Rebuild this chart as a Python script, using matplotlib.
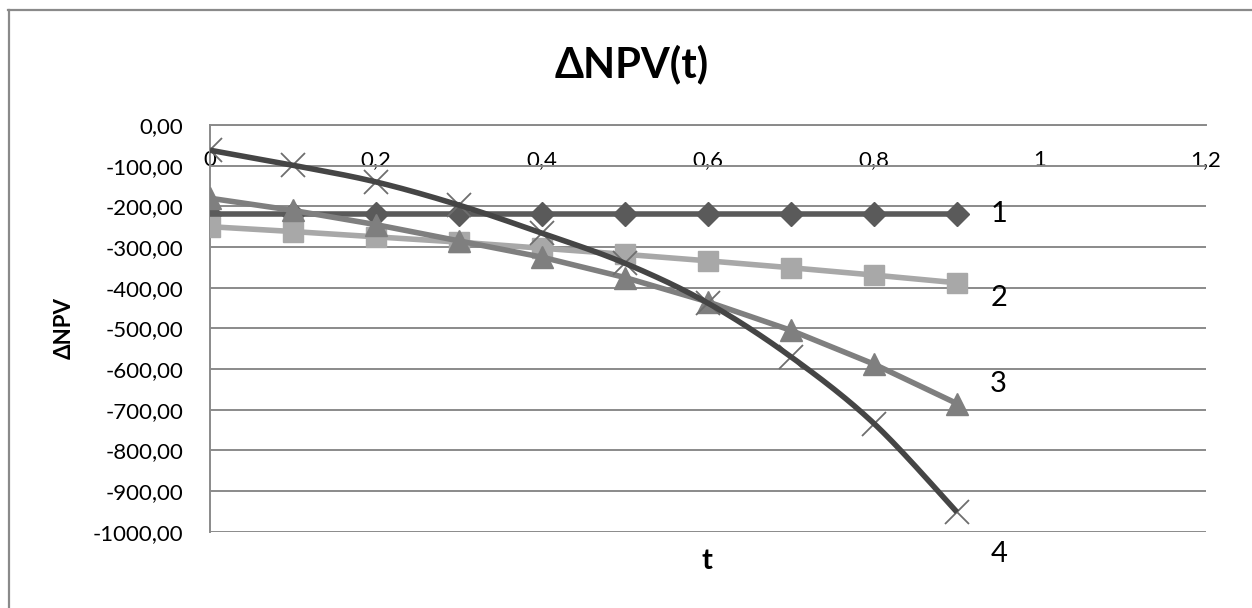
import numpy as np
import matplotlib
matplotlib.use("Agg")
import matplotlib.pyplot as plt
from matplotlib.lines import Line2D
from matplotlib.ticker import FuncFormatter, MultipleLocator

# ---- data ----
t = [0.0, 0.1, 0.2, 0.3, 0.4, 0.5, 0.6, 0.7, 0.8, 0.9]
npv1 = [-220, -220, -220, -220, -220, -220, -220, -220, -220, -220]
npv2 = [-250, -262, -275, -288, -303, -318, -334, -351, -369, -388]
npv3 = [-180, -210, -245, -285, -325, -375, -435, -505, -588, -685]
npv4 = [-62, -99, -140, -197, -266, -340, -438, -570, -734, -952]
series_labels = ["1", "2", "3", "4"]
title = "ΔNPV(t)"
xlabel = "t"
ylabel = "ΔNPV"

plt.rcParams['font.family'] = ['Lato', 'DejaVu Sans']

W, H = 1252, 608
fig = plt.figure(figsize=(W / 100, H / 100), dpi=100)
ax = fig.add_axes([210 / W, 1 - 531.7 / H, (1206 - 210) / W, (531.7 - 125) / H])

grid_c = '#8a8a8a'


def smooth(xs, ys, n=30):
    """Excel-style smoothed line (Catmull-Rom as cubic Bezier)."""
    p = np.column_stack([xs, ys]).astype(float)
    out = []
    for i in range(len(p) - 1):
        p0 = p[i - 1] if i > 0 else p[i]
        p1 = p[i]
        p2 = p[i + 1]
        p3 = p[i + 2] if i + 2 < len(p) else p[i + 1]
        c1 = p1 + (p2 - p0) / 6.0
        c2 = p2 - (p3 - p1) / 6.0
        s = np.linspace(0, 1, n)[:, None]
        seg = ((1 - s) ** 3) * p1 + 3 * ((1 - s) ** 2) * s * c1 + 3 * (1 - s) * s ** 2 * c2 + s ** 3 * p2
        out.append(seg if i == 0 else seg[1:])
    arr = np.vstack(out)
    return arr[:, 0], arr[:, 1]


# series
ax.plot(t, npv1, color='#5a5a5a', lw=4.0, marker='D', ms=12, mfc='#5a5a5a', mec='#5a5a5a', zorder=3)
ax.plot(t, npv2, color='#a8a8a8', lw=4.0, marker='s', ms=15, mfc='#a8a8a8', mec='#a8a8a8', zorder=4)
ax.plot(t, npv3, color='#7f7f7f', lw=4.0, marker='^', ms=16, mfc='#7f7f7f', mec='#7f7f7f', zorder=5)
ax.plot(t, npv4, ls='none', marker='x', ms=17, mew=1.3, color='#6e6e6e', zorder=6)
sx, sy = smooth(t, npv4)
ax.plot(sx, sy, color='#454545', lw=4.0, zorder=7, solid_capstyle='butt')

# series labels at the end of each line
offsets = [(30, 0), (30, -11), (30, 14), (30, -30)]
for lab, ser, off in zip(series_labels, [npv1, npv2, npv3, npv4], offsets):
    ax.annotate(lab, xy=(t[-1], ser[-1]), xytext=off, textcoords='offset points',
                ha='center', va='center', fontsize=21, color='black')

# axes
ax.set_xlim(0, 1.2)
ax.set_ylim(-1000, 0)
ax.xaxis.set_major_locator(MultipleLocator(0.2))
ax.yaxis.set_major_locator(MultipleLocator(100))
ax.xaxis.set_major_formatter(FuncFormatter(lambda v, p: ('%g' % round(v, 2)).replace('.', ',')))
ax.yaxis.set_major_formatter(FuncFormatter(lambda v, p: ('%.2f' % v).replace('.', ',')))
ax.grid(axis='y', color=grid_c, lw=1.4)
ax.set_axisbelow(True)
for s in ['top', 'right']:
    ax.spines[s].set_visible(False)
ax.spines['bottom'].set_position(('data', 0))
ax.spines['bottom'].set_color(grid_c)
ax.spines['bottom'].set_linewidth(1.4)
ax.spines['left'].set_color(grid_c)
ax.spines['left'].set_linewidth(1.4)
ax.tick_params(axis='x', length=0, pad=18, labelsize=16)
ax.tick_params(axis='y', length=0, pad=19, labelsize=16)

fig.text(632 / W, 1 - 64 / H, title, ha='center', va='center', fontsize=30, fontweight='bold')
fig.text(707 / W, 1 - 561 / H, xlabel, ha='center', va='center', fontsize=21, fontweight='bold')
fig.text(64 / W, 1 - 328 / H, ylabel, ha='center', va='center', fontsize=16, fontweight='bold', rotation=90)

# outer chart frame (top and left edges visible)
fig.add_artist(Line2D([8 / W, 1], [1 - 10 / H, 1 - 10 / H], transform=fig.transFigure, color='#8a8a8a', lw=1.6))
fig.add_artist(Line2D([9 / W, 9 / W], [0, 1 - 10 / H], transform=fig.transFigure, color='#8a8a8a', lw=1.6))

fig.savefig('out.png', dpi=100)
